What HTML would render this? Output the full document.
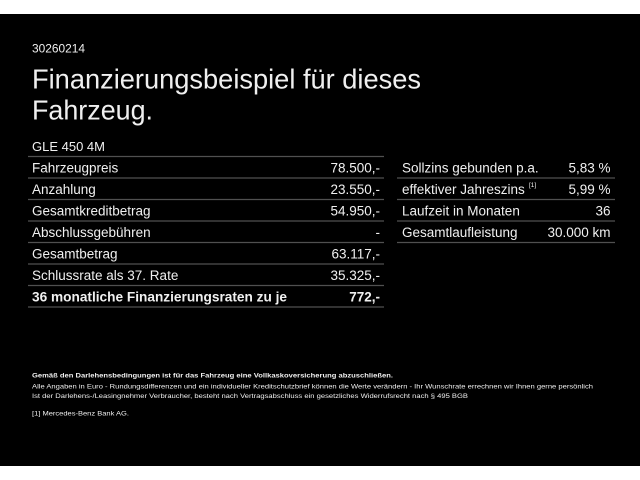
<!DOCTYPE html>
<html>
<head>
<meta charset="utf-8">
<style>
html,body{margin:0;padding:0;background:#fff;}
body{width:640px;height:480px;overflow:hidden;}
svg{display:block;}
text{font-family:"Liberation Sans",Arial,sans-serif;fill:#f0f0f0;}
.b{font-weight:bold;}
</style>
</head>
<body>
<svg width="640" height="480" viewBox="0 0 640 480" xmlns="http://www.w3.org/2000/svg">
<rect x="0" y="0" width="640" height="480" fill="#fff"/>
<rect x="0" y="14" width="640" height="452" fill="#000"/>

<text x="32" y="52.7" font-size="11.6" textLength="53" lengthAdjust="spacingAndGlyphs">30260214</text>
<text x="32" y="88.3" font-size="28" textLength="389" lengthAdjust="spacingAndGlyphs">Finanzierungsbeispiel für dieses</text>
<text x="32" y="119.3" font-size="28" textLength="121" lengthAdjust="spacingAndGlyphs">Fahrzeug.</text>

<text x="32" y="151" font-size="13">GLE 450 4M</text>

<g stroke="#505050" stroke-width="1.2">
<line x1="28" y1="156.5" x2="384" y2="156.5"/>
<line x1="28" y1="178" x2="384" y2="178"/>
<line x1="28" y1="199.5" x2="384" y2="199.5"/>
<line x1="28" y1="221" x2="384" y2="221"/>
<line x1="28" y1="242.5" x2="384" y2="242.5"/>
<line x1="28" y1="264" x2="384" y2="264"/>
<line x1="28" y1="285.5" x2="384" y2="285.5"/>
<line x1="28" y1="307" x2="384" y2="307"/>
<line x1="397" y1="178" x2="615" y2="178"/>
<line x1="397" y1="199.5" x2="615" y2="199.5"/>
<line x1="397" y1="221" x2="615" y2="221"/>
<line x1="397" y1="242.5" x2="615" y2="242.5"/>
</g>

<g font-size="13.5">
<text x="32" y="172.5">Fahrzeugpreis</text>
<text x="32" y="194">Anzahlung</text>
<text x="32" y="215.5">Gesamtkreditbetrag</text>
<text x="32" y="237">Abschlussgebühren</text>
<text x="32" y="258.5">Gesamtbetrag</text>
<text x="32" y="280">Schlussrate als 37. Rate</text>
<text x="32" y="301.5" class="b" textLength="255" lengthAdjust="spacingAndGlyphs">36 monatliche Finanzierungsraten zu je</text>
</g>
<g font-size="13.5" text-anchor="end">
<text x="380" y="172.5">78.500,-</text>
<text x="380" y="194">23.550,-</text>
<text x="380" y="215.5">54.950,-</text>
<text x="380" y="237">-</text>
<text x="380" y="258.5">63.117,-</text>
<text x="380" y="280">35.325,-</text>
<text x="380" y="301.5" class="b">772,-</text>
</g>

<g font-size="13.5">
<text x="402" y="172.5">Sollzins gebunden p.a.</text>
<text x="402" y="194">effektiver Jahreszins</text>
<text x="402" y="215.5">Laufzeit in Monaten</text>
<text x="402" y="237">Gesamtlaufleistung</text>
</g>
<text x="529" y="187" font-size="6.5">[1]</text>
<g font-size="13.5" text-anchor="end">
<text x="610.5" y="172.5">5,83 %</text>
<text x="610.5" y="194">5,99 %</text>
<text x="610.5" y="215.5">36</text>
<text x="610.5" y="237">30.000 km</text>
</g>

<text x="32" y="377.5" font-size="6.6" class="b" textLength="361" lengthAdjust="spacingAndGlyphs">Gemäß den Darlehensbedingungen ist für das Fahrzeug eine Vollkaskoversicherung abzuschließen.</text>
<text x="32" y="388.5" font-size="6.6" fill="#e0e0e0" textLength="561" lengthAdjust="spacingAndGlyphs">Alle Angaben in Euro - Rundungsdifferenzen und ein individueller Kreditschutzbrief können die Werte verändern - Ihr Wunschrate errechnen wir Ihnen gerne persönlich</text>
<text x="32" y="397.8" font-size="6.6" fill="#e0e0e0" textLength="436" lengthAdjust="spacingAndGlyphs">Ist der Darlehens-/Leasingnehmer Verbraucher, besteht nach Vertragsabschluss ein gesetzliches Widerrufsrecht nach § 495 BGB</text>
<text x="32" y="415.5" font-size="6.6" fill="#e0e0e0" textLength="97" lengthAdjust="spacingAndGlyphs">[1]  Mercedes-Benz Bank AG.</text>
</svg>
</body>
</html>
